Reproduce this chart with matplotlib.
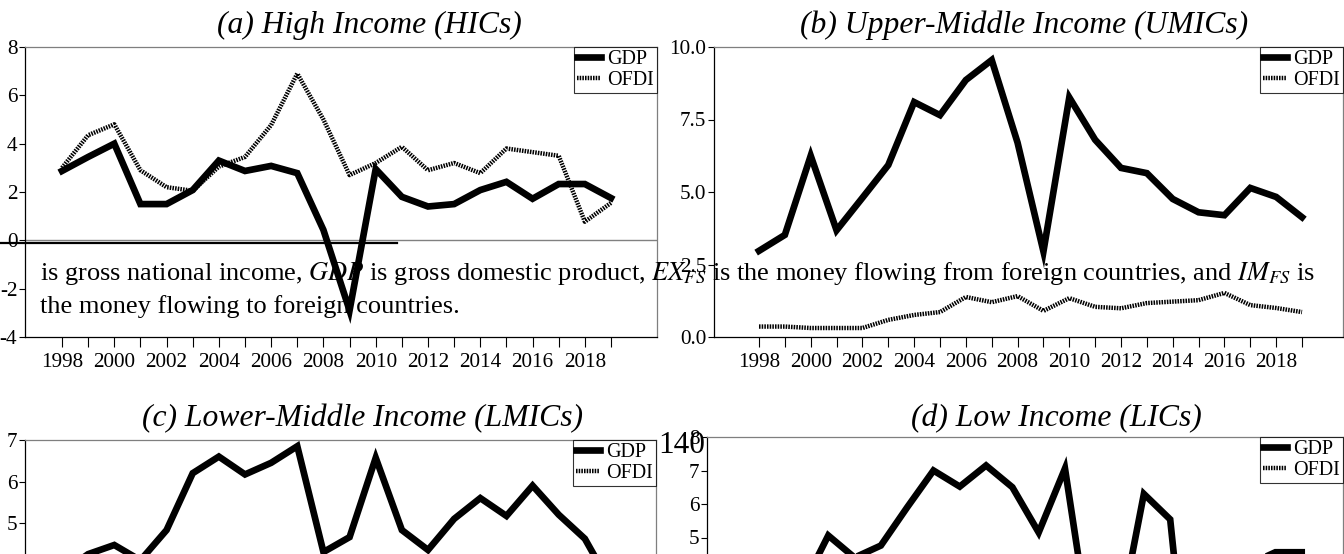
import matplotlib.pyplot as plt
from matplotlib.lines import Line2D
from matplotlib.ticker import FormatStrFormatter

plt.rcParams['font.family'] = ['Liberation Serif', 'DejaVu Serif']
plt.rcParams['mathtext.fontset'] = 'stix'
plt.rcParams['axes.unicode_minus'] = False

years = list(range(1998, 2020))

# (a) high income
hic_gdp = [2.87, 3.45, 4.0, 1.5, 1.5, 2.08, 3.3, 2.87, 3.08, 2.78, 0.43, -2.9,
           2.95, 1.8, 1.4, 1.5, 2.08, 2.42, 1.72, 2.33, 2.33, 1.75]
hic_ofdi = [3.0, 4.35, 4.8, 2.9, 2.2, 2.05, 3.05, 3.45, 4.77, 6.9, 5.0, 2.7,
            3.2, 3.87, 2.9, 3.2, 2.78, 3.8, 3.65, 3.5, 0.77, 1.55]
# (b) upper-middle income
umic_gdp = [2.97, 3.52, 6.25, 3.68, 4.8, 5.93, 8.1, 7.65, 8.86, 9.55, 6.7, 2.95,
            8.26, 6.8, 5.83, 5.65, 4.76, 4.3, 4.2, 5.14, 4.83, 4.13]
umic_ofdi = [0.36, 0.36, 0.31, 0.31, 0.31, 0.59, 0.76, 0.86, 1.38, 1.2, 1.41, 0.9,
             1.34, 1.04, 0.99, 1.17, 1.22, 1.27, 1.52, 1.1, 1.0, 0.86]
# (c) lower-middle income
lmic_gdp = [3.8, 4.25, 4.47, 4.1, 4.83, 6.2, 6.6, 6.17, 6.45, 6.85, 4.3, 4.66,
            6.57, 4.83, 4.35, 5.1, 5.6, 5.17, 5.9, 5.2, 4.62, 3.5]
lmic_ofdi = [0.3, 0.25, 0.2, 0.4, 0.35, 0.5, 0.6, 0.7, 0.9, 1.1, 1.3, 0.9,
             1.0, 1.2, 1.1, 1.0, 0.9, 0.8, 0.9, 0.7, 0.6, 0.5]
# (d) low income
lic_gdp = [3.8, 3.4, 3.5, 5.06, 4.4, 4.76, 5.9, 7.0, 6.52, 7.15, 6.5, 5.15,
           7.06, 1.9, 2.25, 6.3, 5.54, -2.0, 2.0, 4.2, 4.56, 4.56]
lic_ofdi = [0.1, 0.1, 0.2, 0.2, 0.1, 0.3, 0.4, 0.3, 0.5, 0.6, 0.8, 0.7,
            0.9, 1.0, 1.2, 1.1, 0.9, 0.8, 1.0, 0.9, 0.7, 0.6]

titles = ['(a) High Income (HICs)', '(b) Upper-Middle Income (UMICs)',
          '(c) Lower-Middle Income (LMICs)', '(d) Low Income (LICs)']

W, H = 1344, 554


def box(left, top, right, bottom):
    # pixel box (from top-left) -> figure fraction
    return [left / W, 1 - bottom / H, (right - left) / W, (bottom - top) / H]


fig = plt.figure(figsize=(W / 100, H / 100), dpi=100)


def panel(rect, gdp, ofdi, xlim, ylim, yticks, fmt):
    ax = fig.add_axes(rect)
    if ylim[0] < 0:
        ax.axhline(0, color='#808080', lw=1, zorder=1)
    ax.plot(years, gdp, color='black', lw=4.8, solid_joinstyle='miter', label='GDP', zorder=3)
    ax.plot(years, ofdi, color='black', lw=3.2, linestyle=(0, (0.35, 0.25)),
            dash_capstyle='butt', label='OFDI', zorder=3)
    ax.set_xlim(xlim)
    ax.set_ylim(ylim)
    ax.set_xticks(years)
    ax.set_xticklabels([str(y) if y % 2 == 0 else '' for y in years])
    ax.set_yticks(yticks)
    ax.yaxis.set_major_formatter(FormatStrFormatter(fmt))
    ax.tick_params(axis='x', length=7, width=0.8, pad=4.5, labelsize=15.2)
    ax.tick_params(axis='y', length=4.5, width=0.8, pad=1, labelsize=15.2)
    for s in ['top', 'right']:
        ax.spines[s].set_color('#7f7f7f')
    for s in ax.spines.values():
        s.set_linewidth(0.9)
    leg = ax.legend(loc='upper right', fontsize=14.5, fancybox=False, edgecolor='black',
                    borderaxespad=0, borderpad=0.15, handlelength=1.2,
                    handletextpad=0.3, labelspacing=0.1)
    leg.get_frame().set_linewidth(0.8)
    return ax


panel(box(25, 47, 657, 337), hic_gdp, hic_ofdi, (1996.585, 2020.76), (-4, 8),
      range(-4, 9, 2), '%d')
panel(box(714, 47, 1343, 337), umic_gdp, umic_ofdi, (1996.26, 2020.585), (0, 10),
      [0, 2.5, 5, 7.5, 10], '%.1f')
panel(box(25, 440, 656, 730.5), lmic_gdp, lmic_ofdi, (1996.585, 2020.72), (0, 7),
      range(0, 8), '%d')
panel(box(707, 437, 1343, 805.5), lic_gdp, lic_ofdi, (1996.39, 2020.57), (-3, 8),
      range(-3, 9), '%d')

# titles
for t, (cx, by) in zip(titles, [(369, 33), (1024, 33), (363, 426), (1056, 426)]):
    fig.text(cx / W, 1 - by / H, t, fontsize=22.8, style='italic', ha='center', va='baseline')

# text from the page running over the charts
fig.text(40 / W, 1 - 280 / H,
         r'is gross national income, $GDP$ is gross domestic product, $EX_{FS}$ is the money '
         r'flowing from foreign countries, and $IM_{FS}$ is', fontsize=19, va='baseline')
fig.text(40 / W, 1 - 313 / H, 'the money flowing to foreign countries.',
         fontsize=19, va='baseline')
fig.text(658 / W, 1 - 453 / H, '140', fontsize=22.5, va='baseline')
fig.add_artist(Line2D([0, 397 / W], [1 - 243 / H, 1 - 243 / H], color='black', lw=1.6))

fig.savefig('out.png', dpi=100)
